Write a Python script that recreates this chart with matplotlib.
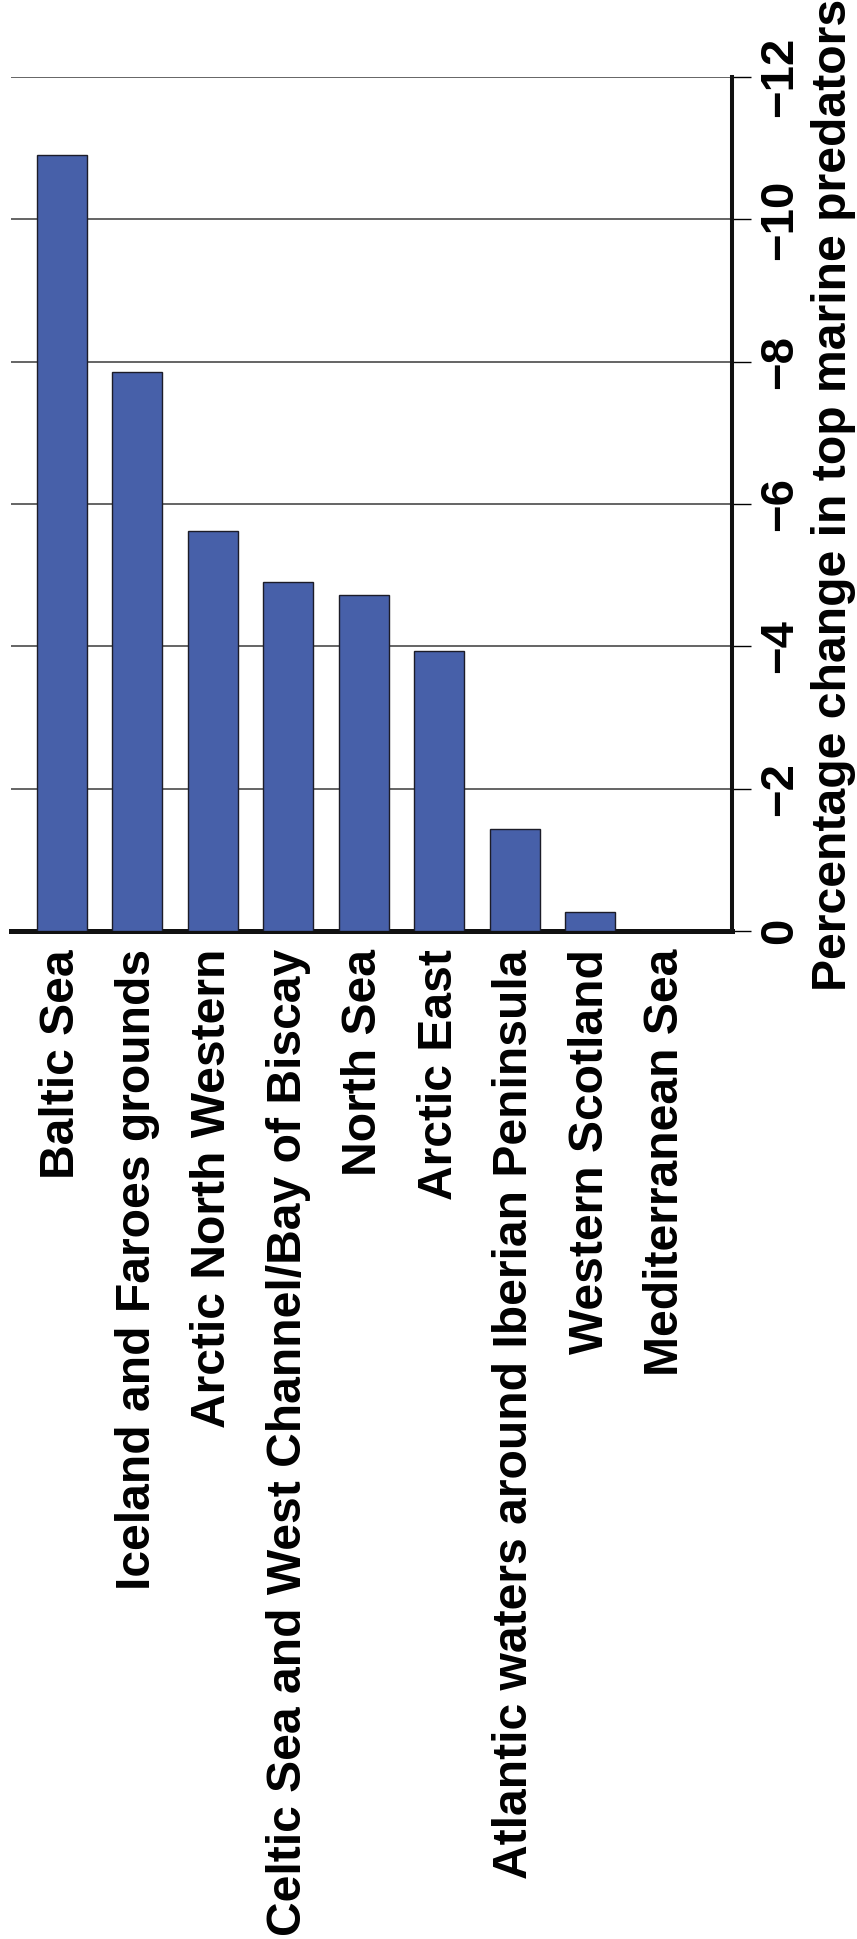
import matplotlib
matplotlib.use("Agg")
import matplotlib.pyplot as plt
import numpy as np

regions = [
    "Baltic Sea",
    "Iceland and Faroes grounds",
    "Arctic North Western",
    "Celtic Sea and West Channel/Bay of Biscay",
    "North Sea",
    "Arctic East",
    "Atlantic waters around Iberian Peninsula",
    "Western Scotland",
    "Mediterranean Sea",
]
pct_change = [-10.9, -7.85, -5.62, -4.9, -4.72, -3.93, -1.43, -0.27, 0.0]
yticks = [0, -2, -4, -6, -8, -10, -12]

plt.rcParams["font.family"] = ["Liberation Sans", "DejaVu Sans"]
plt.rcParams["font.weight"] = "bold"

fig = plt.figure(figsize=(8.57, 19.39), dpi=100)
ax_left, ax_right, ax_top, ax_bot = 11, 732, 77, 931
ax = fig.add_axes([ax_left / 857, 1 - ax_bot / 1939,
                   (ax_right - ax_left) / 857, (ax_bot - ax_top) / 1939])

x = np.arange(len(regions))
ax.bar(x, pct_change, width=0.66, color="#4760a9", edgecolor="#1c1c28",
       linewidth=1.0, zorder=3)

ax.set_ylim(0, -12)
ax.set_xlim(-0.674, 8.876)
ax.set_yticks(yticks)
ax.yaxis.tick_right()
ax.yaxis.set_label_position("right")
ax.tick_params(axis="y", direction="out", length=14, width=1.0, pad=5,
               labelsize=34, labelrotation=90)
for lbl in ax.get_yticklabels():
    lbl.set_fontweight("bold")
    lbl.set_va("center")

ax.set_xticks(x)
ax.set_xticklabels(regions, rotation=90, fontsize=34.6, fontweight="bold",
                   ha="center", va="top")
ax.tick_params(axis="x", length=0, pad=13)

ax.grid(axis="y", color="#4a4a4a", linewidth=1.2, zorder=0)
ax.set_axisbelow(True)

for side in ("top", "left"):
    ax.spines[side].set_visible(False)
ax.spines["bottom"].set_linewidth(3.6)
ax.spines["bottom"].set_color("#111111")
ax.spines["right"].set_linewidth(2.9)
ax.spines["right"].set_color("#111111")

# axis label centred at x=833 px, y=495 px of the figure
ax.set_ylabel("Percentage change in top marine predators", fontsize=34.7,
              fontweight="bold")
ax.yaxis.set_label_coords((833 - ax_left) / (ax_right - ax_left),
                          (ax_bot - 495) / (ax_bot - ax_top))
ax.yaxis.label.set_va("center")
ax.yaxis.label.set_ha("center")

fig.savefig("out.png", dpi=100)
